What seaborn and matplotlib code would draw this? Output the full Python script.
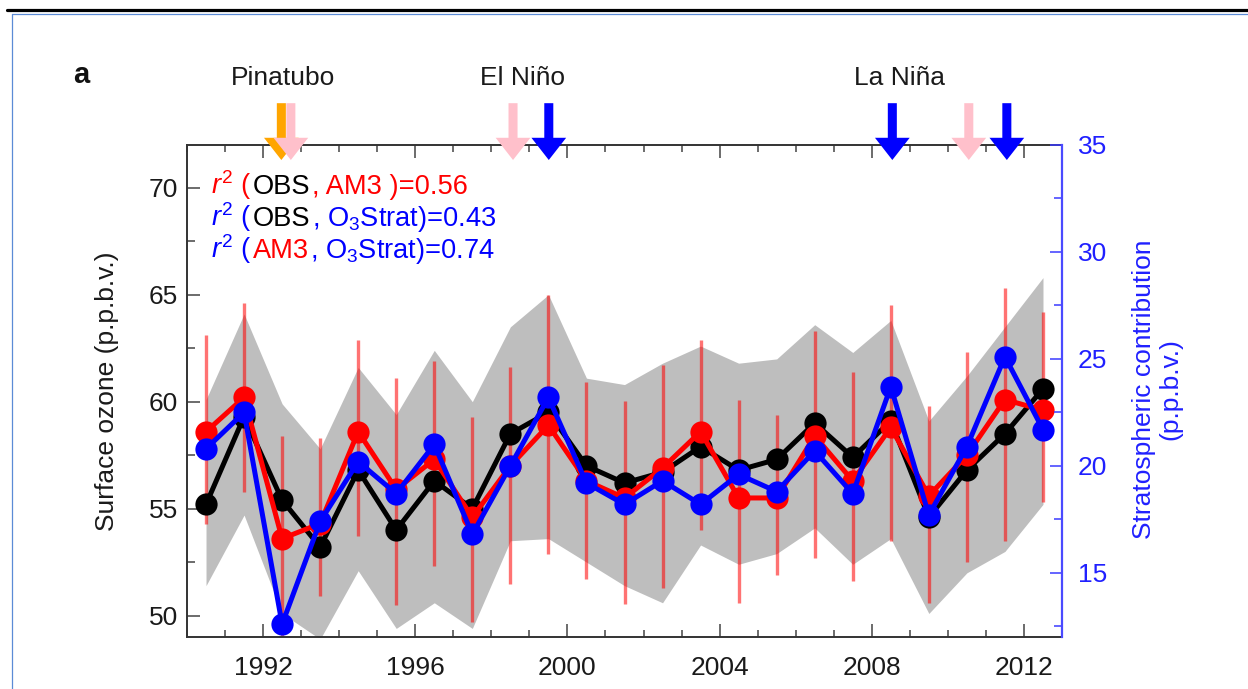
import numpy as np
import pandas as pd
import matplotlib
matplotlib.use("Agg")
import matplotlib.pyplot as plt
import matplotlib.transforms as mtransforms
from matplotlib.patches import FancyArrowPatch
from matplotlib.lines import Line2D
from matplotlib.ticker import MultipleLocator
import seaborn as sns

# ---- data -------------------------------------------------------------
years = np.arange(1990, 2013)

# observed surface ozone (black), p.p.b.v.
obs = [55.2, 59.3, 55.4, 53.2, 56.8, 54.0, 56.3, 55.0, 58.5, 59.5, 57.0, 56.2,
       56.7, 57.9, 56.8, 57.3, 59.0, 57.4, 59.1, 54.6, 56.8, 58.5, 60.6]
# spread of observations (grey band)
obs_lo = [51.4, 54.7, 50.1, 48.9, 52.1, 49.4, 50.6, 49.4, 53.5, 53.6, 52.5, 51.4,
          50.6, 53.3, 52.4, 52.9, 54.1, 52.4, 53.6, 50.1, 52.0, 53.0, 55.2]
obs_hi = [60.1, 64.1, 59.9, 57.8, 61.6, 59.4, 62.4, 60.0, 63.5, 65.0, 61.1, 60.8,
          61.8, 62.6, 61.8, 62.0, 63.6, 62.3, 63.8, 59.1, 61.2, 63.5, 65.8]

# AM3 model (red) with its spread
am3 = [58.6, 60.2, 53.6, 54.3, 58.6, 55.9, 57.3, 54.6, 57.0, 58.9, 56.3, 55.5,
       56.9, 58.6, 55.5, 55.5, 58.4, 56.3, 58.8, 55.6, 57.5, 60.1, 59.6]
am3_lo = [54.3, 55.8, 48.7, 50.9, 53.7, 50.5, 52.3, 49.7, 51.5, 52.9, 51.7, 50.55,
          51.3, 54.0, 50.6, 51.9, 52.7, 51.6, 53.5, 50.6, 52.5, 53.5, 55.3]
am3_hi = [63.1, 64.6, 58.4, 58.3, 62.9, 61.1, 61.9, 59.3, 61.6, 65.0, 60.9, 60.05,
          61.7, 62.9, 60.1, 59.4, 63.3, 61.4, 64.5, 59.8, 62.3, 65.3, 64.2]

# stratospheric contribution O3Strat (blue, right axis)
strat = [20.8, 22.5, 12.6, 17.4, 20.2, 18.7, 21.0, 16.8, 20.0, 23.2, 19.2, 18.2,
         19.3, 18.2, 19.6, 18.8, 20.7, 18.7, 23.7, 17.7, 20.9, 25.1, 21.7]

x_ticks = [1992, 1996, 2000, 2004, 2008, 2012]
left_ticks = [50, 55, 60, 65, 70]
right_ticks = [15, 20, 25, 30, 35]

event_labels = ["Pinatubo", "El Niño", "La Niña"]
event_label_x = [1992.53, 1998.82, 2008.74]
arrow_x = [1992.48, 1992.73, 1998.57, 1999.51, 2008.54, 2010.55, 2011.55]
arrow_colors = ["orange", "pink", "pink", "blue", "blue", "pink", "blue"]

r2_lines = [
    [("$r^2$ (", "red"), ("OBS", "black"), (", AM3 )=0.56", "red")],
    [("$r^2$ (", "blue"), ("OBS", "black"), (", O$_3$Strat)=0.43", "blue")],
    [("$r^2$ (", "blue"), ("AM3", "red"), (", O$_3$Strat)=0.74", "blue")],
]

# ---- style ------------------------------------------------------------
sns.set_style("white")
plt.rcParams["font.family"] = ["Liberation Sans", "DejaVu Sans"]
plt.rcParams["mathtext.fontset"] = "custom"
plt.rcParams["mathtext.rm"] = "Liberation Sans"
plt.rcParams["mathtext.it"] = "Liberation Sans:italic"
FS = 19
FS_R2 = 19.6
W, H = 1248, 689

fig = plt.figure(figsize=(W / 100, H / 100), dpi=100)
ax = fig.add_axes([187 / W, 1 - 637 / H, (1062 - 187) / W, (637 - 145) / H])
ax2 = ax.twinx()

xc = years + 0.5
df = pd.DataFrame({"x": xc, "obs": obs, "am3": am3, "strat": strat})

ax.fill_between(xc, obs_lo, obs_hi, color="#bebebe", lw=0, zorder=1)
ax.vlines(xc, am3_lo, am3_hi, color="red", alpha=0.55, lw=2.4, zorder=2)

line_kw = dict(lw=3.6, marker="o", markersize=16, markeredgewidth=0)
sns.lineplot(data=df, x="x", y="obs", ax=ax, color="black", zorder=3, **line_kw)
sns.lineplot(data=df, x="x", y="am3", ax=ax, color="red", zorder=4, **line_kw)
sns.lineplot(data=df, x="x", y="strat", ax=ax2, color="blue", zorder=5, **line_kw)

# ---- axes -------------------------------------------------------------
ax.set_xlim(1990, 2013)
ax.set_ylim(49, 72)
ax2.set_ylim(12, 35)
ax.set_xlabel("")
ax.set_ylabel("")
ax2.set_ylabel("")

ax.set_xticks(x_ticks)
ax.xaxis.set_minor_locator(MultipleLocator(1))
ax.set_yticks(left_ticks)
ax.yaxis.set_minor_locator(MultipleLocator(2.5))
ax2.set_yticks(right_ticks)
ax2.yaxis.set_minor_locator(MultipleLocator(2.5))

tick_col = "#444444"
ax.tick_params(axis="x", which="both", direction="in", top=True, bottom=True,
               color=tick_col, width=1.1, labelsize=FS, labelcolor="#1a1a1a", pad=14)
ax.tick_params(axis="x", which="major", length=9.5)
ax.tick_params(axis="x", which="minor", length=5)
ax.tick_params(axis="y", which="both", direction="in", left=True, right=False,
               color=tick_col, width=1.1, labelsize=FS, labelcolor="#1a1a1a", pad=6.5)
ax.tick_params(axis="y", which="major", length=9.5)
ax.tick_params(axis="y", which="minor", length=5.5)
ax2.tick_params(axis="y", which="both", direction="in", right=True, left=False,
                color="#3a3aff", width=1.1, labelsize=FS, labelcolor="#2020ff", pad=11.5)
ax2.tick_params(axis="y", which="major", length=9)
ax2.tick_params(axis="y", which="minor", length=5.5)

for s in ["left", "top", "bottom"]:
    ax.spines[s].set_color("#333333")
    ax.spines[s].set_linewidth(1.4)
    ax2.spines[s].set_visible(False)
ax.spines["right"].set_visible(False)
ax2.spines["right"].set_color("#4a4aff")
ax2.spines["right"].set_linewidth(1.6)

# axis titles
fig.text(107 / W, 1 - 391 / H, "Surface ozone (p.p.b.v.)", rotation=90,
         ha="center", va="center", fontsize=FS, color="#1a1a1a")
fig.text(1157 / W, 1 - 389 / H, "Stratospheric contribution\n(p.p.b.v.)", rotation=90,
         ha="center", va="center", ma="center", fontsize=FS, color="#2020ff",
         linespacing=1.15)

# ---- event markers above the plot --------------------------------------
blend = mtransforms.blended_transform_factory(ax.transData, ax.transAxes)
for xa, col in zip(arrow_x, arrow_colors):
    arr = FancyArrowPatch((xa, 1.085), (xa, 0.9695), transform=blend,
                          arrowstyle="simple,head_length=1.6,head_width=2.5,tail_width=0.65",
                          mutation_scale=10, color=col, lw=0, shrinkA=0, shrinkB=0,
                          clip_on=False, zorder=10)
    ax2.add_patch(arr)
for lab, xl in zip(event_labels, event_label_x):
    ax.text(xl, 1.136, lab, transform=blend, ha="center", va="center",
            fontsize=FS, color="#1a1a1a", clip_on=False)

fig.text(81 / W, 1 - 75 / H, "a", fontsize=21, fontweight="bold",
         ha="center", va="center", color="#111111")

# ---- coloured r^2 statements ------------------------------------------
renderer = fig.canvas.get_renderer()
baselines = [194, 226, 258]
for segs, yb in zip(r2_lines, baselines):
    xpix = 211
    for s, col in segs:
        t = fig.text(xpix / W, 1 - yb / H, s, color=col, fontsize=FS_R2,
                     ha="left", va="baseline")
        xpix += t.get_window_extent(renderer).width + 1.5

# ---- page frame --------------------------------------------------------
fig.add_artist(Line2D([7 / W, 1], [1 - 9.5 / H] * 2, color="black", lw=2.3,
                      transform=fig.transFigure))
fig.add_artist(Line2D([12 / W, 1], [1 - 14 / H] * 2, color="#5b8bd6", lw=0.9,
                      transform=fig.transFigure))
fig.add_artist(Line2D([12 / W, 12 / W], [1 - 14 / H, 0], color="#5b8bd6", lw=0.9,
                      transform=fig.transFigure))

fig.savefig("out.png", dpi=100)
